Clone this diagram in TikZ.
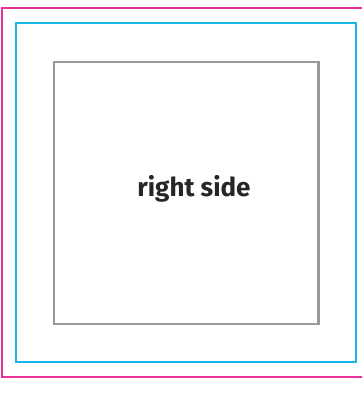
\documentclass[tikz,border=0pt]{standalone}
\usepackage{fontspec}
\setsansfont{Fira Sans}
\usetikzlibrary{positioning}

\definecolor{bleedpink}{HTML}{E8339B}
\definecolor{trimcyan}{HTML}{1BB5E8}
\definecolor{safegray}{HTML}{999999}

\begin{document}
\begin{tikzpicture}[
    x=1pt, y=-1pt,
    every node/.style={font=\sffamily\bfseries\fontsize{26}{30}\selectfont},
    frame/.style={line width=2.8pt},
    label/.style={text=black!85}
]
\clip (0,0) rectangle (362,404);
\fill[white] (0,0) rectangle (362,404);
% bleed, trim and safe area
\draw[frame, bleedpink] (2,8) rectangle (366,377);
\draw[frame, trimcyan] (16,23) rectangle (356,362);
\draw[frame, safegray, line width=2.3pt] (54,62) rectangle (318.5,324);
\node[label] (side) at (194,189) {right side};
\end{tikzpicture}
\end{document}
